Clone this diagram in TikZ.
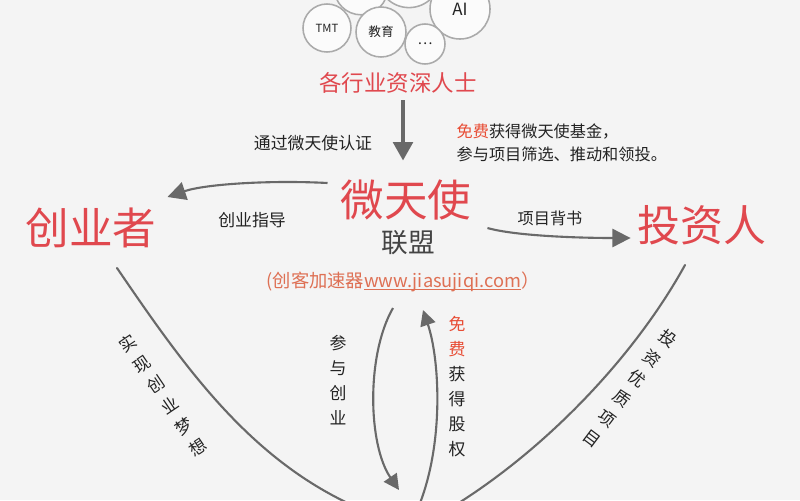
\documentclass[tikz,border=0pt]{standalone}
\usepackage{fontspec}
\setmainfont{Noto Sans CJK SC}
\usepackage{xcolor}
\usepackage{tikz}
\usetikzlibrary{arrows.meta,calc}
\definecolor{wred}{RGB}{224,72,78}
\definecolor{wurl}{RGB}{222,112,84}
\definecolor{wfree}{RGB}{232,76,52}
\definecolor{wgray}{RGB}{105,105,105}
\definecolor{wdark}{RGB}{35,35,35}
\definecolor{wbg}{RGB}{244,244,244}
\definecolor{wring}{RGB}{170,170,170}
\newcommand\linkline[1]{\setbox0\hbox{#1}\rlap{\rule[-1.6pt]{\wd0}{0.5pt}}\box0}

\begin{document}
\begin{tikzpicture}[x=0.025cm, y=-0.025cm,
  bubble/.style={circle, draw=wring, line width=1.1pt, fill=wbg!40!white,
                 inner sep=0pt, text=wdark},
  big/.style={font=\fontsize{31}{34}\selectfont, text=wred, inner sep=2pt},
  lbl/.style={font=\fontsize{12}{14}\selectfont, text=wdark, inner sep=1pt},
  vlbl/.style={font=\fontsize{12}{17.8}\selectfont, text=wdark, align=center, inner sep=1pt},
  arr/.style={-{Triangle[length=13pt,width=14pt]}, line width=2.2pt, color=wgray},
  carr/.style={-{Triangle[length=13pt,width=13pt]}, line width=1.5pt, color=wgray},
  sweep/.style={line width=1.5pt, color=wgray, line cap=round}
]
  \useasboundingbox (0,0) rectangle (800,500);
  \fill[wbg] (0,0) rectangle (800,500);
  \clip (0,0) rectangle (800,500);

  \node[bubble, minimum size=1.34cm] (ctopa) at (361,-12) {};
  \node[bubble, minimum size=1.58cm] (ctopb) at (409,-24) {};
  \node[bubble, minimum size=1.5cm, font=\fontsize{12}{14}\selectfont] (cai) at (460,9) {AI};
  \node[bubble, minimum size=1.2cm, font=\fontsize{8}{10}\selectfont] (ctmt) at (327,28) {TMT};
  \node[bubble, minimum size=1.25cm, font=\fontsize{9}{10}\selectfont] (cedu) at (381,32) {教育};
  \node[bubble, minimum size=1.0cm, font=\fontsize{10}{10}\selectfont] (cmore) at (425,44) {…};

  \node[font=\fontsize{16}{18}\selectfont, text=wred] (pros) at (398,83) {各行业资深人士};
  \node[big] (wei) at (406,200) {微天使};
  \node[font=\fontsize{19}{22}\selectfont, text=wdark!85] (lian) at (408,243) {联盟};
  \node[font=\fontsize{13}{16}\selectfont, text=wurl] (url) at (403,282)
    {(创客加速器\linkline{www.jiasujiqi.com}）};
  \node[big] (chuang) at (91,228) {创业者};
  \node[big, font=\fontsize{30.5}{34}\selectfont] (tou) at (702,225) {投资人};

  \node[lbl] (lcert) at (313,143) {通过微天使认证};
  \node[lbl, font=\fontsize{11.5}{16.5}\selectfont, align=left, anchor=west] (lfund) at (455,143)
    {\textcolor{wfree}{免费}获得微天使基金，\\参与项目筛选、推动和领投。};
  \node[lbl] (lguide) at (252,220) {创业指导};
  \node[lbl, font=\fontsize{11.5}{14}\selectfont] (lback) at (550,218) {项目背书};
  \node[vlbl, rotate=34] (ldream) at (163,395) {实\\现\\创\\业\\梦\\想};
  \node[vlbl, rotate=-37] (linvest) at (630,388) {投\\资\\优\\质\\项\\目};
  \node[vlbl] (ljoin) at (338,380) {参\\与\\创\\业};
  \node[vlbl] (lequity) at (457,387)
    {\textcolor{wfree}{免}\\\textcolor{wfree}{费}\\获\\得\\股\\权};

  \coordinate (bl) at (390,520);
  \coordinate (br) at (430,520);
  \coordinate (bin) at (399,490);
  \coordinate (bout) at (415,515);

  \draw[arr] ($(pros.south)+(5,2)$) -- ($(pros.south)+(5,62)$);
  \draw[carr] ($(wei.west)+(-10,-17)$) .. controls ($(wei.west)+(-67,-20)$)
    and ($(chuang.east)+(46,-44)$) .. ($(chuang.east)+(8,-31)$);
  \draw[carr] ($(wei.east)+(13,28)$) .. controls ($(wei.east)+(41,36)$)
    and ($(tou.west)+(-55,13)$) .. ($(tou.west)+(-4,13)$);
  \draw[sweep] ($(chuang)+(26,40)$) .. controls (190,375) and (262,478) .. (bl);
  \draw[sweep] ($(tou)+(-17,40)$) .. controls (630,365) and (530,465) .. (br);
  \draw[carr, -{Triangle[length=11pt,width=11pt]}] ($(url)+(-10,26)$) .. controls (366,355) and (368,445) .. (bin);
  \draw[carr, -{Triangle[length=11pt,width=11pt]}] (bout) .. controls (445,450) and (440,360) .. ($(url)+(20,28)$);
\end{tikzpicture}
\end{document}
